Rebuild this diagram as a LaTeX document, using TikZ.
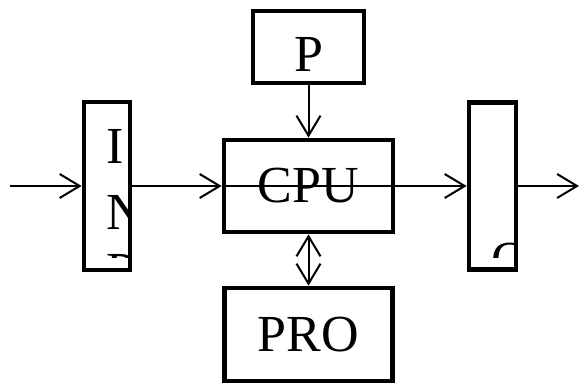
\documentclass[tikz,border=0pt]{standalone}
\usepackage{fontspec}
\setmainfont{Liberation Serif}
\usetikzlibrary{arrows.meta}
\tikzset{cpubox/.style={draw,line width=2.4pt,inner sep=0pt,font=\fontsize{26}{30}\selectfont},
  cpuflow/.style={line width=1pt,-{Straight Barb[length=10pt,width=12pt]}},
  cpuletter/.style={inner sep=0pt,anchor=base west,font=\fontsize{26}{30}\selectfont}}

\begin{document}
\begin{tikzpicture}[x=0.5pt,y=-0.5pt]
\useasboundingbox (0,0) rectangle (580,383);
% blocks
\node (P)   [cpubox,minimum width=55.5pt,minimum height=36pt,text height=25pt,text depth=0pt] at (308.5,47) {P};
\node (CPU) [cpubox,minimum width=84.5pt,minimum height=46pt] at (308.5,186) {CPU};
\node (PRO) [cpubox,minimum width=84pt,minimum height=46.5pt] at (308.5,334.5) {PRO};
\node (IN)  [cpubox,minimum width=23pt,minimum height=84pt] at (107,186) {};
\node (OUT) [cpubox,minimum width=23.5pt,minimum height=83.5pt] at (492.5,186) {};
% letters cut off by the narrow boxes
\begin{scope}
  \clip (86,104) rectangle (128,258);
  \node (i1) [cpuletter] at (106,164) {I};
  \node (i2) [cpuletter] at (106,230) {N};
  \node (i3) [cpuletter] at (106,289) {P};
\end{scope}
\begin{scope}
  \clip (471,105) rectangle (514,258);
  \node (o1) [cpuletter] at (491,278) {O};
\end{scope}
% data paths
\coordinate (src) at (10,186);
\coordinate (dst) at (579,186);
\draw[cpuflow] (src) -- (IN);
\draw[cpuflow] (IN) -- (CPU);
\draw[cpuflow] (CPU.west) -- (OUT);
\draw[cpuflow] (OUT) -- (dst);
\draw[cpuflow] (P) -- (CPU);
\draw[cpuflow,{Straight Barb[length=10pt,width=12pt]}-{Straight Barb[length=10pt,width=12pt]}] (CPU) -- (PRO);
\end{tikzpicture}
\end{document}
